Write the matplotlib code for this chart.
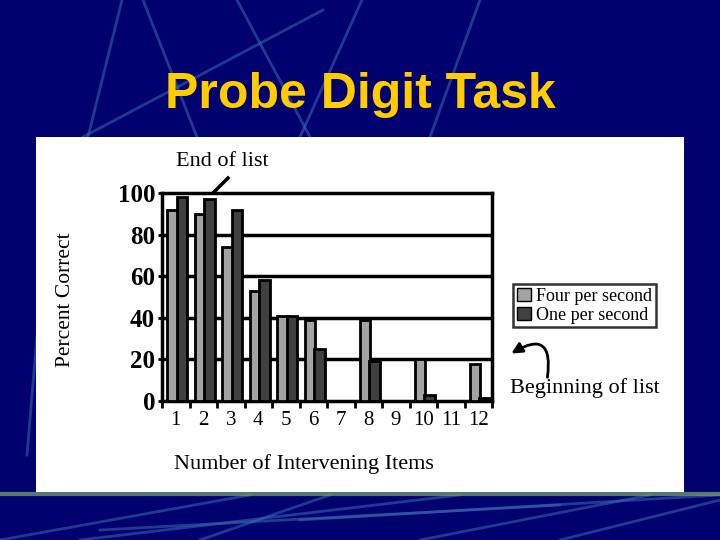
import matplotlib
matplotlib.use("Agg")
from matplotlib import pyplot as plt
from matplotlib.patches import Rectangle, FancyArrowPatch
import numpy as np

# values
items = [1, 2, 3, 4, 5, 6, 7, 8, 9, 10, 11, 12]
four_per_second = [92, 90, 74, 53, 41, 39, 0, 39, 0, 20, 0, 18]
one_per_second = [98, 97, 92, 58, 41, 25, 0, 19, 0, 3, 0, 1.5]
shown = [1, 1, 1, 1, 1, 1, 0, 1, 0, 1, 0, 1]

bg = "#00006e"
fig = plt.figure(figsize=(7.2, 5.4), dpi=100, facecolor=bg)

# background streaks
streaks = [((122, 0), (88, 137)), ((143, 0), (197, 137)), ((323, 10), (83, 137)),
           ((237, 0), (310, 137)), ((362, 0), (300, 137)), ((480, 0), (430, 137)),
           ((27, 455), (40, 300)), ((0, 540), (250, 495)), ((80, 540), (460, 495)),
           ((200, 540), (330, 495)), ((300, 520), (720, 495)), ((420, 540), (650, 495)),
           ((560, 540), (720, 500)), ((100, 530), (560, 505))]
for (x0, y0), (x1, y1) in streaks:
    fig.add_artist(plt.Line2D([x0 / 720, x1 / 720], [1 - y0 / 540, 1 - y1 / 540],
                              color="#3a6ab0", lw=2, alpha=0.55, zorder=-3,
                              transform=fig.transFigure))
fig.add_artist(plt.Line2D([0, 1], [1 - 494 / 540, 1 - 494 / 540], color="#6f9a6a",
                          lw=3, alpha=0.8, zorder=-2, transform=fig.transFigure))

# white panel
fig.add_artist(Rectangle((36 / 720, 1 - 492 / 540), 648 / 720, 355 / 540,
                         facecolor="white", edgecolor="none", zorder=-1,
                         transform=fig.transFigure))

fig.text(0.5, 1 - 95 / 540, "Probe Digit Task", color="#ffcc00", fontsize=36,
         fontweight="bold", family="Liberation Sans", ha="center", va="center")

ax = fig.add_axes([162 / 720, 1 - 401 / 540, 330 / 720, 208 / 540])
ax.set_facecolor("white")

x = np.array(items, dtype=float)
w = 0.38
for i in range(len(items)):
    if not shown[i]:
        continue
    ax.bar(x[i] - 0.12, four_per_second[i], w, color="#a3a3a3", edgecolor="black",
           linewidth=2, zorder=3)
    ax.bar(x[i] + 0.22, one_per_second[i], w, color="#404040", edgecolor="black",
           linewidth=2, zorder=3)

ax.set_xlim(0.5, 12.5)
ax.set_ylim(0, 100)
ax.set_yticks([0, 20, 40, 60, 80, 100])
for yv in [20, 40, 60, 80]:
    ax.axhline(yv, color="black", lw=2.5, zorder=1)
for s in ax.spines.values():
    s.set_linewidth(2.5)

ax.set_xticks(x)
ax.set_xticklabels([str(v) for v in items])
ax.set_xticks(np.arange(0.5, 13, 1), minor=True)
ax.tick_params(axis="x", which="major", length=0, pad=7)
ax.tick_params(axis="x", which="minor", length=5, width=2, direction="out")
ax.tick_params(axis="y", length=3, width=2, pad=2)
for lab in ax.get_yticklabels():
    lab.set_family("Liberation Serif")
    lab.set_fontsize(18)
    lab.set_fontweight("bold")
for lab in ax.get_xticklabels():
    lab.set_family("Liberation Serif")
    lab.set_fontsize(15)

fig.text(65 / 720, 1 - 300 / 540, "Percent Correct", rotation=90, ha="center",
         va="center", family="Liberation Serif", fontsize=15.5)
fig.text(304 / 720, 1 - 464 / 540, "Number of Intervening Items", ha="center",
         va="center", family="Liberation Serif", fontsize=16)
fig.text(222 / 720, 1 - 161 / 540, "End of list", ha="center", va="center",
         family="Liberation Serif", fontsize=16)
fig.add_artist(plt.Line2D([228 / 720, 214 / 720], [1 - 178 / 540, 1 - 192 / 540],
                          color="black", lw=2.5, transform=fig.transFigure))
fig.text(585 / 720, 1 - 388 / 540, "Beginning of list", ha="center", va="center",
         family="Liberation Serif", fontsize=16)
fig.add_artist(FancyArrowPatch((547 / 720, 1 - 380 / 540), (509 / 720, 1 - 355 / 540),
                               connectionstyle="arc3,rad=1.1", arrowstyle="-|>",
                               mutation_scale=16, color="black", lw=2,
                               transform=fig.transFigure))

handles = [Rectangle((0, 0), 1, 1, facecolor="#a3a3a3", edgecolor="black"),
           Rectangle((0, 0), 1, 1, facecolor="#404040", edgecolor="black")]
leg = fig.legend(handles, ["Four per second", "One per second"],
                 loc="upper left", bbox_to_anchor=(513 / 720, 1 - 284 / 540),
                 frameon=True, fancybox=False, edgecolor="black",
                 prop={"family": "Liberation Serif", "size": 13},
                 handlelength=0.8, handleheight=0.8, handletextpad=0.3,
                 borderpad=0.2, labelspacing=0.1, borderaxespad=0)
leg.get_frame().set_linewidth(1.8)

fig.savefig("out.png", dpi=100, facecolor=bg)
